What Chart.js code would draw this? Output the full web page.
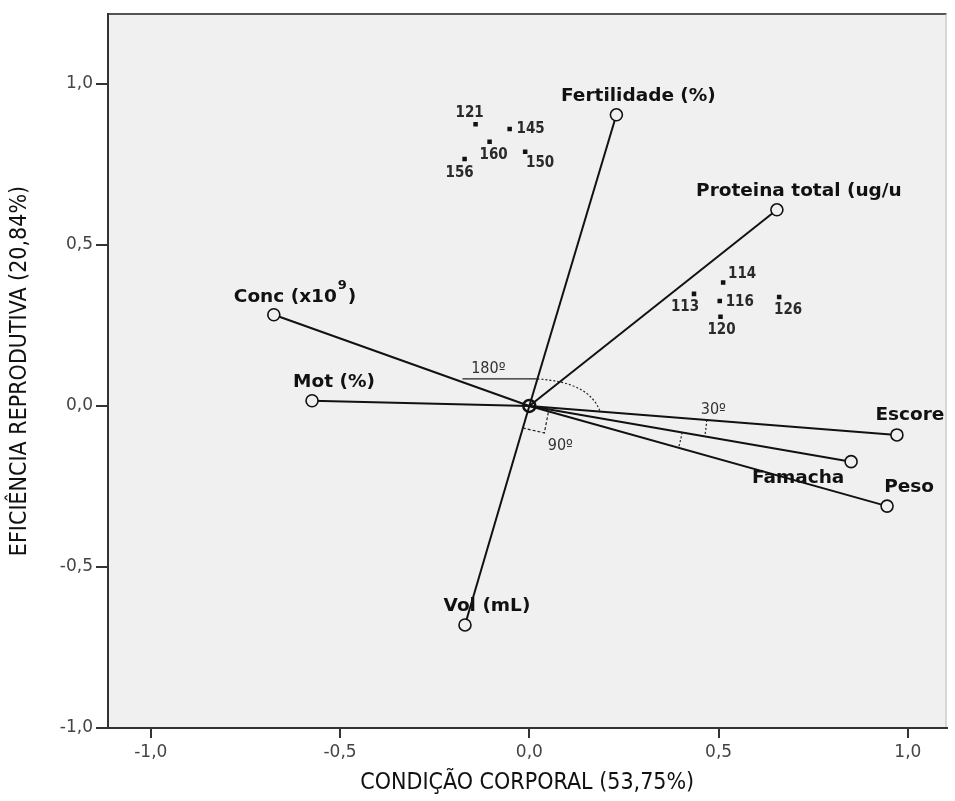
<!DOCTYPE html>
<html>
<head>
<meta charset="utf-8">
<script src="https://cdn.jsdelivr.net/npm/chart.js@4.4.1/dist/chart.umd.min.js"></script>
<style>
  html, body { margin: 0; padding: 0; background: #fff; overflow: hidden; }
  #wrap { width: 955px; height: 801px; position: relative; }
  #biplot { display: block; }
</style>
</head>
<body>
<div id="wrap"><canvas id="biplot"></canvas></div>
<script>
// variable vectors (loadings)
const varNames = ['Fertilidade (%)', 'Proteina total (ug/u', 'Conc (x10', 'Mot (%)', 'Escore', 'Famacha', 'Peso', 'Vol (mL)'];
const varX = [0.230, 0.654, -0.675, -0.574, 0.971, 0.850, 0.945, -0.170];
const varY = [0.904, 0.609, 0.283, 0.016, -0.090, -0.173, -0.311, -0.680];

// animals (scores)
const caseIds = ['121', '145', '160', '150', '156', '114', '113', '116', '120', '126'];
const caseX = [-0.142, -0.052, -0.105, -0.011, -0.171, 0.512, 0.435, 0.503, 0.505, 0.660];
const caseY = [0.875, 0.860, 0.820, 0.789, 0.767, 0.383, 0.348, 0.326, 0.277, 0.338];

const xTickValues = [-1.0, -0.5, 0.0, 0.5, 1.0];
const yTickValues = [-1.0, -0.5, 0.0, 0.5, 1.0];

const narrow = "'Liberation Sans Narrow', 'DejaVu Sans Condensed', sans-serif";
const varFont = 'bold 18.5px "DejaVu Sans", sans-serif';

// label placement (pixel offsets from the mark)
const varLabelOffset = {
    'Conc (x10': [-40, -18, 'left'],
    'Escore': [13, -20, 'center'],
    'Famacha': [-53, 17, 'center']
};
const caseLabelOffset = {
    '121': [-6, -11], '145': [21, 0], '160': [4, 13], '150': [15, 11], '156': [-5, 14],
    '114': [19, -8], '113': [-9, 13], '116': [20, 1], '120': [1, 13], '126': [9, 13]
};

const datasets = [];
varNames.forEach(function(name, i) {
    datasets.push({
        label: name,
        data: [{x: 0, y: 0}, {x: varX[i], y: varY[i]}],
        showLine: true,
        borderColor: '#111',
        borderWidth: 2,
        pointRadius: [0, 6],
        pointBorderWidth: 1.6,
        pointBorderColor: '#111',
        pointBackgroundColor: '#f0f0f0'
    });
});
datasets.push({
    label: 'origem',
    data: [{x: 0, y: 0}],
    pointRadius: 6,
    pointBorderWidth: 2.5,
    pointBorderColor: '#111',
    pointBackgroundColor: 'rgba(0,0,0,0)'
});
datasets.push({
    label: 'casos',
    data: caseX.map(function(x, i) { return {x: x, y: caseY[i]}; }),
    pointStyle: 'rect',
    pointRadius: 3.2,
    pointBorderWidth: 0,
    pointBackgroundColor: '#111'
});

const plotBackground = {
    id: 'plotBackground',
    beforeDraw(chart) {
        const {ctx, chartArea: a} = chart;
        ctx.save();
        ctx.fillStyle = '#f0f0f0';
        ctx.fillRect(a.left, a.top, a.right - a.left, a.bottom - a.top);
        ctx.strokeStyle = '#555';
        ctx.lineWidth = 2;
        ctx.beginPath();
        ctx.moveTo(a.left, a.top);
        ctx.lineTo(a.right, a.top);
        ctx.stroke();
        ctx.strokeStyle = '#bbb';
        ctx.lineWidth = 1;
        ctx.beginPath();
        ctx.moveTo(a.right - 0.5, a.top);
        ctx.lineTo(a.right - 0.5, a.bottom);
        ctx.stroke();
        ctx.restore();
    }
};

const biplotLabels = {
    id: 'biplotLabels',
    afterDatasetsDraw(chart) {
        const ctx = chart.ctx;
        const sx = chart.scales.x, sy = chart.scales.y;
        const x0 = sx.getPixelForValue(0), y0 = sy.getPixelForValue(0);
        const px = function(i) { return sx.getPixelForValue(varX[i]) - x0; };
        const py = function(i) { return sy.getPixelForValue(varY[i]) - y0; };
        const ang = function(i) { return Math.atan2(py(i), px(i)); };
        const along = function(i, r) { const a = ang(i); return [x0 + r * Math.cos(a), y0 + r * Math.sin(a)]; };
        ctx.save();

        // angle marks
        ctx.strokeStyle = '#222';
        ctx.lineWidth = 1.2;
        const iConc = varNames.indexOf('Conc (x10');
        const iEsc = varNames.indexOf('Escore');
        const iFam = varNames.indexOf('Famacha');
        const iPeso = varNames.indexOf('Peso');
        const iVol = varNames.indexOf('Vol (mL)');
        let p = along(iConc, 71);
        ctx.beginPath();
        ctx.moveTo(p[0], y0 - 27);
        ctx.lineTo(x0 + 8, y0 - 27);
        ctx.stroke();
        ctx.setLineDash([2, 2]);
        let q = along(iEsc, 71);
        ctx.beginPath();
        ctx.moveTo(x0 + 8, y0 - 27);
        ctx.quadraticCurveTo(x0 + 60, y0 - 24, q[0], q[1]);
        ctx.stroke();

        ctx.setLineDash([3, 2]);
        p = along(iVol, 23);
        q = along(iEsc, 20);
        ctx.beginPath();
        ctx.moveTo(p[0], p[1]);
        ctx.lineTo(x0 + 15, y0 + 27);
        ctx.lineTo(q[0], q[1]);
        ctx.stroke();

        ctx.setLineDash([2, 2]);
        ctx.beginPath();
        ctx.arc(x0, y0, 178, ang(iEsc), ang(iFam));
        ctx.stroke();
        ctx.beginPath();
        ctx.arc(x0, y0, 155, ang(iFam), ang(iPeso));
        ctx.stroke();
        ctx.setLineDash([]);

        ctx.fillStyle = '#333';
        ctx.font = '16px ' + narrow;
        ctx.textAlign = 'center';
        ctx.textBaseline = 'middle';
        ctx.fillText('180º', x0 - 41, y0 - 37);
        ctx.fillText('90º', x0 + 31, y0 + 40);
        ctx.fillText('30º', x0 + 184, y0 + 4);

        // variable labels
        ctx.fillStyle = '#111';
        ctx.font = varFont;
        varNames.forEach(function(name, i) {
            const off = varLabelOffset[name] || [22, -19, 'center'];
            const x = sx.getPixelForValue(varX[i]) + off[0];
            const y = sy.getPixelForValue(varY[i]) + off[1];
            ctx.textAlign = off[2];
            ctx.fillText(name, x, y);
            if (name === 'Conc (x10') {
                const w = ctx.measureText(name).width;
                ctx.font = 'bold 13px "DejaVu Sans", sans-serif';
                ctx.textAlign = 'left';
                ctx.fillText('9', x + w + 1, y - 11);
                const w9 = ctx.measureText('9').width;
                ctx.font = varFont;
                ctx.fillText(')', x + w + w9 + 2, y);
            }
        });

        // case labels
        ctx.fillStyle = '#2a2a2a';
        ctx.font = 'bold 15px ' + narrow;
        ctx.textAlign = 'center';
        caseIds.forEach(function(id, i) {
            const off = caseLabelOffset[id];
            ctx.fillText(id, sx.getPixelForValue(caseX[i]) + off[0], sy.getPixelForValue(caseY[i]) + off[1]);
        });
        ctx.restore();
    }
};

const fmt = function(v) { return v.toFixed(1).replace('.', ','); };

new Chart(document.getElementById('biplot'), {
    type: 'scatter',
    data: { datasets: datasets },
    options: {
        responsive: true,
        maintainAspectRatio: false,
        animation: false,
        // chart.js keeps ~3px extra on the right, so -1 here puts the frame at 953
        layout: { padding: { top: 14, right: -1, left: 0, bottom: 0 } },
        plugins: {
            legend: { display: false },
            tooltip: { enabled: false }
        },
        scales: {
            x: {
                type: 'linear',
                min: -1.113,
                max: 1.102,
                afterBuildTicks: function(scale) { scale.ticks = xTickValues.map(function(v) { return {value: v}; }); },
                afterFit: function(scale) { scale.height = 73; scale.paddingLeft = 0; scale.paddingRight = 0; },
                ticks: { callback: fmt, color: '#444', font: { family: 'DejaVu Sans', size: 17 }, padding: 4, maxRotation: 0 },
                grid: { drawOnChartArea: false, drawTicks: true, tickLength: 10, color: '#333', lineWidth: 2 },
                border: { display: true, color: '#333', width: 2 },
                title: { display: true, text: 'CONDIÇÃO CORPORAL (53,75%)', color: '#111', font: { family: narrow, size: 23 }, padding: { top: 0, bottom: 4 } }
            },
            y: {
                type: 'linear',
                min: -1.0,
                max: 1.217,
                afterBuildTicks: function(scale) { scale.ticks = yTickValues.map(function(v) { return {value: v}; }); },
                afterFit: function(scale) { scale.width = 108; scale.paddingTop = 0; scale.paddingBottom = 0; },
                ticks: { callback: fmt, color: '#444', font: { family: 'DejaVu Sans', size: 17 }, padding: 3 },
                grid: { drawOnChartArea: false, drawTicks: true, tickLength: 12, color: '#333', lineWidth: 2 },
                border: { display: true, color: '#333', width: 2 },
                title: { display: true, text: 'EFICIÊNCIA REPRODUTIVA (20,84%)', color: '#111', font: { family: narrow, size: 23 }, padding: { top: 6, bottom: 0 } }
            }
        }
    },
    plugins: [plotBackground, biplotLabels]
});
</script>
</body>
</html>
